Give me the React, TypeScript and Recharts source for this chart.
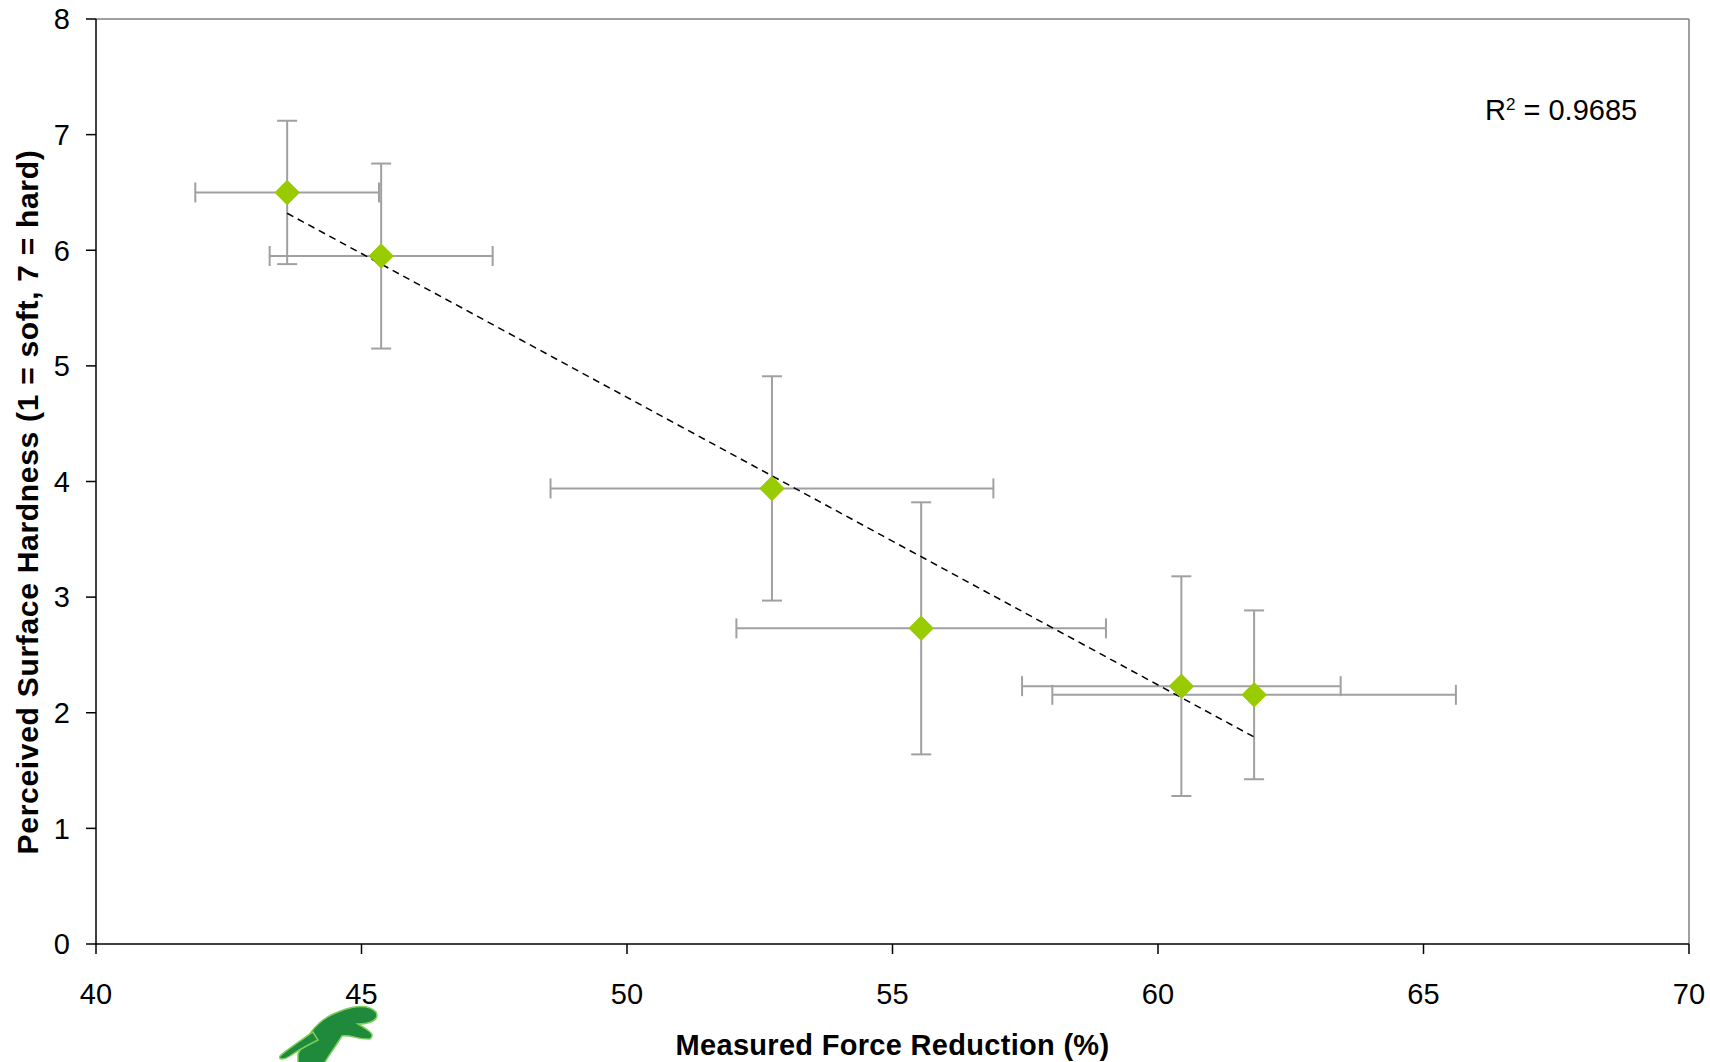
import { ScatterChart, Scatter, XAxis, YAxis, ErrorBar, ReferenceLine, Label } from 'recharts';

// measured force reduction (%) vs perceived hardness, with SDs
const forceReduction = [43.6, 45.37, 52.73, 55.54, 60.44, 61.81];
const forceSD = [1.73, 2.1, 4.17, 3.48, 3.0, 3.8];
const hardness = [6.5, 5.95, 3.94, 2.73, 2.23, 2.155];
const hardnessSD = [0.62, 0.8, 0.97, 1.09, 0.95, 0.73];

// linear trendline end points as drawn
const trendX = [43.6, 61.81];
const trendY = [6.32, 1.79];

const xTicks = [40, 45, 50, 55, 60, 65, 70];
const yTicks = [0, 1, 2, 3, 4, 5, 6, 7, 8];

const points = forceReduction.map((x, i) => ({ x, y: hardness[i], xErr: forceSD[i], yErr: hardnessSD[i] }));
const trend = trendX.map((x, i) => ({ x, y: trendY[i] }));

const FONT = '"Liberation Sans", Arial, sans-serif';

const Diamond = (props: any) => {
    const { cx, cy } = props;
    if (cx == null || cy == null) return null;
    const r = 12.5;
    return <polygon points={`${cx},${cy - r} ${cx + r},${cy} ${cx},${cy + r} ${cx - r},${cy}`} fill="#99CC00" />;
};

const Nothing = () => <g />;

function Logo() {
    // rough stand-in for the runner logo under the axis
    return (
        <svg width={130} height={70} style={{ position: 'absolute', left: 258, top: 994 }}>
            <g fill="#1f8a3c" stroke="#7ccf5a" strokeWidth={1.5}>
                <path d="M40 60 C 50 40, 60 25, 80 18 C 95 12, 110 10, 118 18 C 122 26, 112 30, 100 30 C 110 36, 118 40, 112 45 C 100 46, 92 40, 84 42 C 78 52, 70 62, 66 70 L 40 70 Z" />
                <path d="M55 38 C 45 45, 30 55, 22 62 C 20 66, 26 66, 32 62 C 42 55, 52 50, 60 46 Z" />
            </g>
        </svg>
    );
}

export default function App() {
    return (
        <div style={{ position: 'absolute', left: 0, top: 0, width: 1710, height: 1062, background: '#fff', fontFamily: FONT }}>
            <ScatterChart width={1710} height={1062} margin={{ top: 19, right: 21, left: 0, bottom: 0 }}>
                <XAxis
                    type="number"
                    dataKey="x"
                    domain={[40, 70]}
                    ticks={xTicks}
                    allowDataOverflow
                    height={118}
                    tickSize={10}
                    tickMargin={29}
                    stroke="#000"
                    strokeWidth={1.5}
                    tick={{ fill: '#000', fontSize: 29, fontFamily: FONT }}
                >
                    <Label
                        content={(p: any) => {
                            const vb = p.viewBox || {};
                            return (
                                <text x={vb.x + vb.width / 2} y={1055} textAnchor="middle" fontFamily={FONT} fontWeight="bold" fontSize={29} letterSpacing={0.3} fill="#000">
                                    Measured Force Reduction (%)
                                </text>
                            );
                        }}
                    />
                </XAxis>
                <YAxis
                    type="number"
                    dataKey="y"
                    domain={[0, 8]}
                    ticks={yTicks}
                    allowDataOverflow
                    width={96}
                    tickSize={10}
                    tickMargin={16}
                    stroke="#000"
                    strokeWidth={1.5}
                    tick={{ fill: '#000', fontSize: 29, fontFamily: FONT }}
                >
                    <Label
                        content={() => (
                            <text x={38} y={502} transform="rotate(-90 38 502)" textAnchor="middle" fontFamily={FONT} fontWeight="bold" fontSize={30} letterSpacing={0.7} fill="#000">
                                Perceived Surface Hardness (1 = soft, 7 = hard)
                            </text>
                        )}
                    />
                </YAxis>
                <ReferenceLine y={8} stroke="#808080" strokeWidth={1.5} />
                <ReferenceLine x={70} stroke="#808080" strokeWidth={1.5} />
                <Scatter data={points} shape={Diamond} isAnimationActive={false}>
                    <ErrorBar dataKey="xErr" direction="x" width={10} stroke="#A0A0A0" strokeWidth={2} isAnimationActive={false} />
                    <ErrorBar dataKey="yErr" direction="y" width={10} stroke="#A0A0A0" strokeWidth={2} isAnimationActive={false} />
                </Scatter>
                <Scatter
                    data={trend}
                    shape={Nothing}
                    line={{ stroke: '#000', strokeWidth: 1.5, strokeDasharray: '7 5' }}
                    isAnimationActive={false}
                />
                <Scatter data={points} shape={Diamond} isAnimationActive={false} />
            </ScatterChart>
            <div style={{ position: 'absolute', left: 1485, top: 92, fontSize: 29, color: '#000', whiteSpace: 'nowrap', lineHeight: '36px' }}>
                R<sup style={{ fontSize: 17, verticalAlign: 'top', position: 'relative', top: -5 }}>2</sup> = 0.9685
            </div>
            <Logo />
        </div>
    );
}
